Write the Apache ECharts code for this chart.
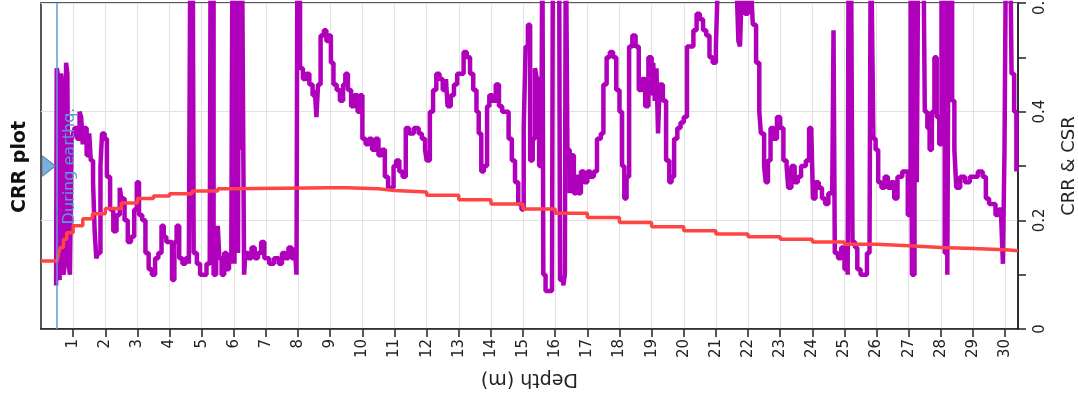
<!DOCTYPE html>
<html>
<head>
<meta charset="utf-8">
<script src="https://cdn.jsdelivr.net/npm/echarts@6/dist/echarts.min.js"></script>
<style>html,body{margin:0;padding:0;background:#fff;}#chart{width:1078px;height:401px;}</style>
</head>
<body>
<div id="chart"></div>
<script>
// ---- data ----
const depthTicks = [1,2,3,4,5,6,7,8,9,10,11,12,13,14,15,16,17,18,19,20,21,22,23,24,25,26,27,28,29,30];
const eqDepth = 0.5;
const markerPoint = [[0.25, 0.3]];

const crrDepth = [0.47,0.49,0.52,0.55,0.58,0.62,0.66,0.70,0.74,0.78,0.82,0.86,0.90,0.95,1.0,1.05,1.12,1.2,1.25,1.3,1.35,1.42,1.5,1.55,1.62,1.67,1.72,1.78,1.85,1.9,1.98,2.05,2.15,2.25,2.35,2.45,2.5,2.6,2.7,2.8,2.9,2.98,3.05,3.15,3.25,3.35,3.45,3.55,3.65,3.75,3.82,3.9,4.0,4.08,4.15,4.22,4.3,4.4,4.5,4.6,4.65,4.72,4.75,4.85,4.95,5.05,5.15,5.25,5.28,5.34,5.37,5.45,5.5,5.55,5.62,5.7,5.78,5.85,5.92,5.96,6.0,6.02,6.05,6.1,6.13,6.16,6.22,6.25,6.3,6.32,6.36,6.45,6.55,6.65,6.75,6.85,6.95,7.1,7.25,7.4,7.5,7.6,7.7,7.8,7.9,7.95,7.98,8.03,8.06,8.15,8.25,8.35,8.45,8.52,8.57,8.62,8.7,8.8,8.88,8.95,9.02,9.1,9.2,9.3,9.4,9.47,9.55,9.65,9.75,9.85,9.92,10.0,10.1,10.2,10.3,10.4,10.5,10.6,10.7,10.8,10.9,10.97,11.05,11.15,11.25,11.35,11.45,11.6,11.75,11.85,11.95,12.0,12.1,12.2,12.3,12.4,12.5,12.6,12.65,12.75,12.85,12.95,13.05,13.15,13.25,13.35,13.45,13.55,13.62,13.7,13.78,13.88,13.95,14.05,14.15,14.25,14.35,14.45,14.55,14.65,14.75,14.85,14.95,15.02,15.08,15.15,15.22,15.3,15.37,15.43,15.5,15.57,15.6,15.63,15.7,15.8,15.9,15.93,16.05,16.12,16.15,16.25,16.3,16.33,16.38,16.45,16.5,16.58,16.65,16.72,16.8,16.9,17.0,17.1,17.2,17.3,17.42,17.5,17.6,17.7,17.8,17.9,18.0,18.08,18.15,18.22,18.3,18.4,18.5,18.6,18.7,18.8,18.9,19.0,19.05,19.1,19.15,19.2,19.25,19.35,19.45,19.55,19.62,19.7,19.8,19.9,20.0,20.1,20.2,20.3,20.4,20.5,20.6,20.7,20.8,20.9,21.0,21.05,21.3,21.65,21.7,21.75,21.8,21.9,22.0,22.1,22.15,22.25,22.35,22.4,22.5,22.55,22.62,22.7,22.8,22.9,23.0,23.1,23.2,23.25,23.35,23.45,23.55,23.65,23.8,23.9,23.97,24.02,24.1,24.2,24.3,24.4,24.5,24.62,24.66,24.7,24.8,24.9,25.0,25.1,25.13,25.2,25.25,25.33,25.4,25.5,25.6,25.7,25.78,25.82,25.88,25.9,25.97,26.05,26.15,26.25,26.35,26.45,26.55,26.65,26.8,26.9,26.97,27.03,27.06,27.1,27.15,27.18,27.25,27.3,27.45,27.5,27.58,27.65,27.72,27.8,27.87,27.95,28.02,28.08,28.12,28.2,28.25,28.3,28.35,28.42,28.48,28.6,28.75,28.9,29.0,29.15,29.3,29.4,29.5,29.6,29.7,29.8,29.88,29.93,29.98,30.03,30.15,30.2,30.28,30.35];
const crrValue = [0.08,0.48,0.47,0.10,0.09,0.47,0.45,0.10,0.12,0.49,0.47,0.12,0.10,0.35,0.36,0.37,0.35,0.40,0.39,0.34,0.37,0.32,0.36,0.31,0.27,0.18,0.13,0.14,0.30,0.36,0.35,0.28,0.22,0.18,0.21,0.26,0.24,0.20,0.16,0.17,0.22,0.27,0.21,0.20,0.14,0.11,0.10,0.13,0.14,0.19,0.17,0.16,0.16,0.09,0.16,0.19,0.13,0.12,0.13,0.12,0.75,0.75,0.14,0.12,0.10,0.10,0.12,0.12,0.75,0.75,0.10,0.12,0.19,0.13,0.10,0.14,0.11,0.13,0.12,0.75,0.75,0.12,0.75,0.75,0.14,0.75,0.33,0.75,0.75,0.10,0.14,0.13,0.15,0.13,0.14,0.16,0.13,0.12,0.13,0.12,0.14,0.13,0.15,0.13,0.15,0.10,0.75,0.75,0.48,0.46,0.47,0.45,0.43,0.44,0.39,0.45,0.54,0.55,0.53,0.54,0.49,0.45,0.44,0.42,0.45,0.47,0.44,0.41,0.43,0.40,0.43,0.35,0.34,0.35,0.33,0.35,0.32,0.33,0.28,0.26,0.26,0.30,0.31,0.29,0.28,0.37,0.36,0.37,0.36,0.35,0.33,0.31,0.40,0.44,0.47,0.46,0.44,0.46,0.41,0.43,0.45,0.47,0.47,0.51,0.50,0.47,0.44,0.40,0.36,0.29,0.30,0.41,0.43,0.42,0.45,0.41,0.40,0.40,0.35,0.31,0.27,0.23,0.22,0.37,0.52,0.56,0.31,0.35,0.48,0.46,0.30,0.31,0.75,0.10,0.07,0.07,0.09,0.75,0.75,0.75,0.09,0.08,0.10,0.75,0.33,0.25,0.32,0.25,0.28,0.25,0.29,0.27,0.29,0.28,0.29,0.35,0.36,0.45,0.50,0.51,0.50,0.44,0.40,0.30,0.24,0.28,0.52,0.54,0.52,0.44,0.46,0.41,0.50,0.43,0.49,0.42,0.48,0.36,0.45,0.42,0.31,0.27,0.28,0.35,0.37,0.38,0.39,0.52,0.52,0.55,0.58,0.57,0.55,0.54,0.50,0.49,0.52,0.62,0.65,0.62,0.53,0.52,0.62,0.58,0.63,0.62,0.56,0.49,0.40,0.36,0.30,0.27,0.31,0.37,0.35,0.39,0.37,0.31,0.30,0.26,0.30,0.27,0.28,0.30,0.31,0.37,0.36,0.24,0.27,0.26,0.24,0.23,0.25,0.25,0.55,0.14,0.13,0.15,0.11,0.10,0.75,0.75,0.16,0.15,0.11,0.10,0.10,0.14,0.15,0.75,0.75,0.35,0.33,0.27,0.26,0.28,0.26,0.27,0.24,0.28,0.29,0.29,0.21,0.21,0.75,0.10,0.10,0.75,0.27,0.75,0.75,0.40,0.37,0.33,0.40,0.50,0.39,0.34,0.75,0.75,0.14,0.10,0.75,0.75,0.42,0.33,0.26,0.28,0.27,0.28,0.28,0.29,0.28,0.24,0.23,0.23,0.21,0.22,0.20,0.12,0.33,0.75,0.75,0.47,0.40,0.29];

const csrDepth = [0,0.5,0.55,0.6,0.7,0.8,1.0,1.3,1.6,2.0,2.5,3.0,3.5,4.0,4.7,5.5,6.0,9.0,9.5,10.5,11.0,12.0,13.0,14.0,15.0,16.0,17.0,18.0,19.0,20.0,21.0,22.0,23.0,24.0,25.0,26.0,27.0,28.0,29.0,30.0,30.4];
const csrValue = [0.125,0.125,0.14,0.15,0.165,0.177,0.19,0.203,0.212,0.222,0.232,0.24,0.245,0.249,0.254,0.258,0.26,0.26,0.258,0.255,0.252,0.246,0.238,0.23,0.221,0.213,0.205,0.196,0.188,0.181,0.175,0.17,0.165,0.16,0.156,0.153,0.15,0.148,0.146,0.144,0.143];

// ---- chart ----
const crrData = crrDepth.map((d, i) => [d, crrValue[i]]);
const csrData = csrDepth.map((d, i) => [d, csrValue[i]]);
const FONT = '"DejaVu Sans", Verdana, sans-serif';
const BLUE = '#5b9bd5';

const chart = echarts.init(document.getElementById('chart'), null, {renderer: 'canvas'});
chart.setOption({
  animation: false,
  backgroundColor: '#fff',
  grid: {left: 41, right: 60, top: 3, bottom: 72, outerBoundsMode: 'none', containLabel: false,
         show: true, borderColor: '#222', borderWidth: 1.5, backgroundColor: 'transparent'},
  xAxis: {
    type: 'value', min: 0, max: 30.4, interval: 1,
    axisLine: {show: true, onZero: false, lineStyle: {color: '#222', width: 1.5}},
    axisTick: {show: true, customValues: depthTicks, length: 8, lineStyle: {color: '#222', width: 1.5}},
    axisLabel: {customValues: depthTicks, rotate: 90, fontSize: 15, color: '#222', margin: 10, fontFamily: FONT},
    splitLine: {show: true, lineStyle: {color: '#e2e2e2', width: 1}},
    name: 'Depth (m)', nameLocation: 'middle', nameRotate: 180, nameGap: 40,
    nameTextStyle: {fontSize: 19, color: '#222', fontFamily: FONT}
  },
  yAxis: {
    type: 'value', position: 'right', min: 0, max: 0.6, interval: 0.2,
    axisLine: {show: true, onZero: false, lineStyle: {color: '#222', width: 1.5}},
    axisTick: {show: true, length: 8, lineStyle: {color: '#222', width: 1.5}},
    minorTick: {show: true, splitNumber: 2, length: 8, lineStyle: {color: '#222', width: 1.5}},
    axisLabel: {rotate: 90, fontSize: 15, color: '#222', margin: 15, align: 'center', verticalAlign: 'top', fontFamily: FONT},
    splitLine: {show: true, lineStyle: {color: '#e2e2e2', width: 1}},
    name: 'CRR & CSR', nameLocation: 'middle', nameRotate: 90, nameGap: 42,
    nameTextStyle: {fontSize: 18, color: '#222', fontFamily: FONT}
  },
  graphic: [{
    type: 'text', x: 20, y: 167, rotation: Math.PI / 2,
    style: {text: 'CRR plot', font: 'bold 19px "DejaVu Sans"', fill: '#111', align: 'center', verticalAlign: 'middle'}
  }],
  series: [
    {
      name: 'CRR', type: 'line', data: crrData, step: 'end', showSymbol: false, symbol: 'none', clip: true,
      lineStyle: {color: '#b000bb', width: 4.5}, z: 2
    },
    {
      name: 'CSR', type: 'line', data: csrData, step: 'end', showSymbol: false, symbol: 'none', clip: true,
      lineStyle: {color: '#ff4444', width: 3.5}, z: 3,
      markLine: {
        silent: true, symbol: 'none',
        lineStyle: {color: BLUE, width: 1.5, type: 'solid'},
        label: {show: true, formatter: 'During earthq.', position: 'insideMiddleBottom', color: BLUE, fontSize: 16, fontFamily: FONT},
        data: [{xAxis: eqDepth}]
      }
    },
    {
      name: 'marker', type: 'scatter', data: markerPoint, symbol: 'triangle', symbolRotate: -90,
      symbolSize: [20, 13], itemStyle: {color: BLUE, borderColor: '#41719c', borderWidth: 1}, z: 4, clip: false
    }
  ]
});
</script>
</body>
</html>
